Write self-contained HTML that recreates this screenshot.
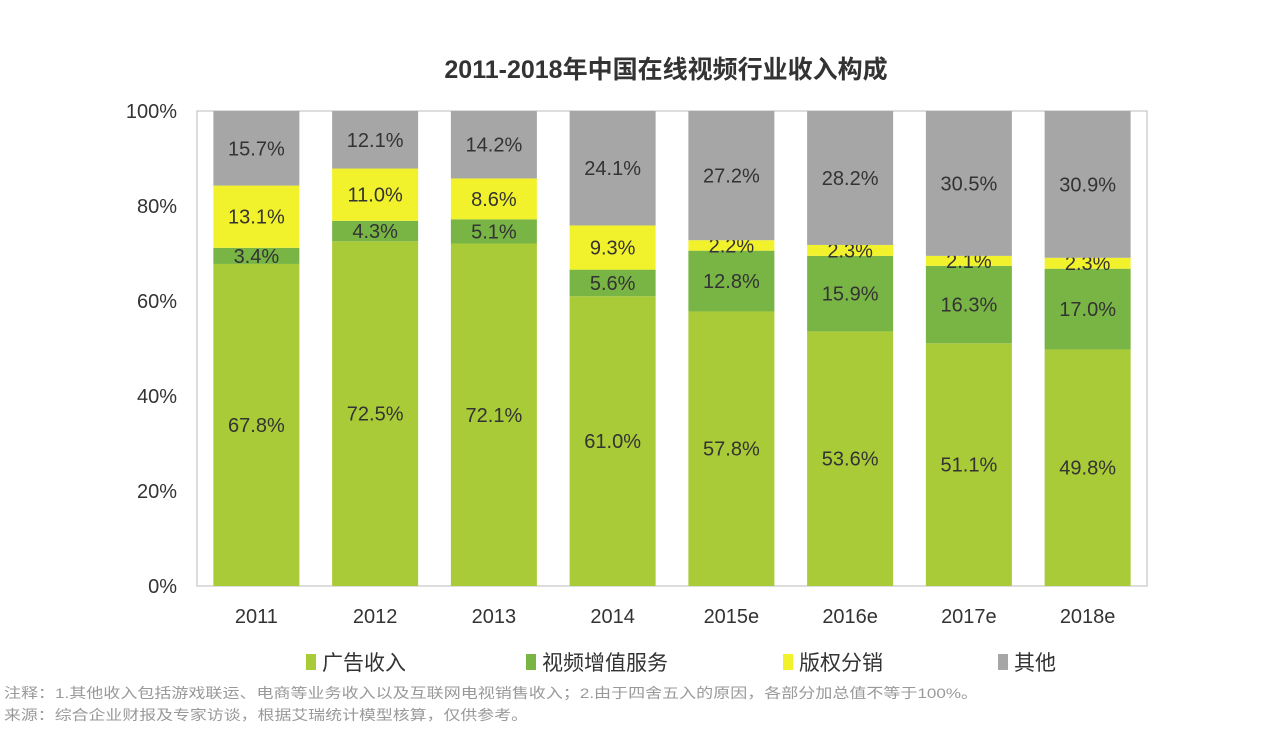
<!DOCTYPE html>
<html><head><meta charset="utf-8"><style>
body{margin:0;background:#fff;width:1280px;height:743px;overflow:hidden;font-family:"Liberation Sans","Noto Sans CJK SC",sans-serif}
</style></head><body>
<svg id="c" width="1280" height="743" style="font-family:'Liberation Sans','Noto Sans CJK SC',sans-serif">
<text x="666" y="78" text-anchor="middle" font-size="25" font-weight="bold" fill="#333">2011-2018年中国在线视频行业收入构成</text>
<rect x="197" y="111" width="950" height="475" fill="none" stroke="#bbb"/>
<g id="bars"></g><g id="axes"></g>
<g font-size="21" fill="#333">
<rect x="306" y="654" width="10" height="16" fill="#a9cb37"/><text x="322" y="670">广告收入</text>
<rect x="526" y="654" width="10" height="16" fill="#79b545"/><text x="542" y="670">视频增值服务</text>
<rect x="783" y="654" width="10" height="16" fill="#f2f22c"/><text x="799" y="670">版权分销</text>
<rect x="998" y="654" width="10" height="16" fill="#a6a6a6"/><text x="1014" y="670">其他</text>
</g>
<text x="4" y="698" font-size="14" fill="#999" textLength="974" lengthAdjust="spacingAndGlyphs">注释：1.其他收入包括游戏联运、电商等业务收入以及互联网电视销售收入；2.由于四舍五入的原因，各部分加总值不等于100%。</text>
<text x="4" y="720" font-size="14" fill="#999" textLength="524" lengthAdjust="spacingAndGlyphs">来源：综合企业财报及专家访谈，根据艾瑞统计模型核算，仅供参考。</text>
</svg>
<script>
const categories=["2011","2012","2013","2014","2015e","2016e","2017e","2018e"];
const adRevenue=[67.8,72.5,72.1,61.0,57.8,53.6,51.1,49.8];
const vasRevenue=[3.4,4.3,5.1,5.6,12.8,15.9,16.3,17.0];
const copyrightRevenue=[13.1,11.0,8.6,9.3,2.2,2.3,2.1,2.3];
const otherRevenue=[15.7,12.1,14.2,24.1,27.2,28.2,30.5,30.9];
const yTicks=[0,20,40,60,80,100];
const NS="http://www.w3.org/2000/svg";
const X0=197,W=950,Y0=586,H=475,bw=86;
const step=W/categories.length;
const xs=i=>X0+step*i+(step-bw)/2;
const ys=v=>Y0-v/100*H;
const series=[["ad",adRevenue,"#a9cb37"],["vas",vasRevenue,"#79b545"],["copyright",copyrightRevenue,"#f2f22c"],["other",otherRevenue,"#a6a6a6"]];
const bars=document.getElementById('bars'),axes=document.getElementById('axes');
function mk(t,a,p){const e=document.createElementNS(NS,t);for(const k in a)e.setAttribute(k,a[k]);p.appendChild(e);return e;}
categories.forEach((c,i)=>{
  let tot=0;series.forEach(s=>tot+=s[1][i]);
  let cum=0;
  series.forEach(([n,vals,col])=>{
    const v=vals[i]/tot*100;
    const yTop=ys(cum+v),yBot=ys(cum);
    const r=mk('rect',{x:xs(i),y:yTop,width:bw,height:yBot-yTop,fill:col},bars);
    
    
    const t=mk('text',{x:xs(i)+bw/2,y:(yTop+yBot)/2+7,'text-anchor':'middle','font-size':20,fill:'#333'},bars);
    t.textContent=vals[i].toFixed(1)+'%';
    
    
    cum+=v;
  });
  const xl=mk('text',{x:xs(i)+bw/2,y:623,'text-anchor':'middle','font-size':20,fill:'#333'},axes);
  xl.textContent=c;
  
  
});
yTicks.forEach(v=>{
  const t=mk('text',{x:177,y:ys(v)+7,'text-anchor':'end','font-size':20,fill:'#333'},axes);
  t.textContent=v+'%';
  
  
});
</script>
</body></html>
